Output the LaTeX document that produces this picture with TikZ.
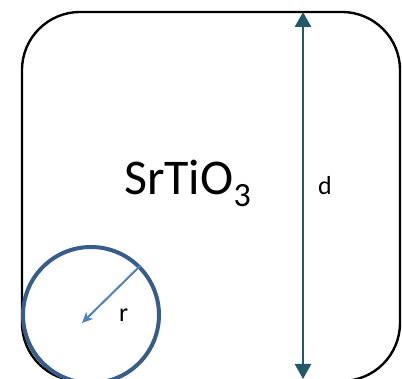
\documentclass[tikz,border=0pt]{standalone}
\usepackage{fontspec}
\setmainfont{Carlito}
\usetikzlibrary{arrows.meta}
\definecolor{circcol}{HTML}{385D8A}
\definecolor{radcol}{HTML}{4F81BD}
\definecolor{dcol}{HTML}{215968}
\tikzset{
  lbl/.style={inner sep=0pt, anchor=base west, font=\fontsize{26}{26}\selectfont},
}
\begin{document}
\begin{tikzpicture}[x=1pt,y=-1pt]
\useasboundingbox (0,0) rectangle (402,379);
\clip (0,0) rectangle (402,379);
\fill[white] (0,0) rectangle (402,379);
\draw[line width=2.4pt, rounded corners=58pt] (22,12) rectangle (400,381);
\node[inner sep=0pt, anchor=base west, font=\fontsize{50}{50}\selectfont] (mat) at (124,195) {SrTiO\raisebox{-12pt}{\fontsize{34}{34}\selectfont 3}};
\node[circle, draw=circcol, line width=4pt, minimum size=136pt, inner sep=0pt] (pore) at (91,315) {};
\coordinate (ctr) at (82,323);
\draw[radcol, line width=2pt, -{Stealth[length=11pt,width=10pt]}] (pore.45) -- (ctr);
\node[lbl] (r) at (119,322) {r};
\coordinate (dtop) at (303,12);
\coordinate (dbot) at (303,379);
\draw[dcol, line width=2.6pt, {Triangle[length=15pt,width=16pt]}-{Triangle[length=15pt,width=16pt]}] (dtop) -- (dbot);
\node[lbl] (d) at (318,195) {d};
\end{tikzpicture}
\end{document}
